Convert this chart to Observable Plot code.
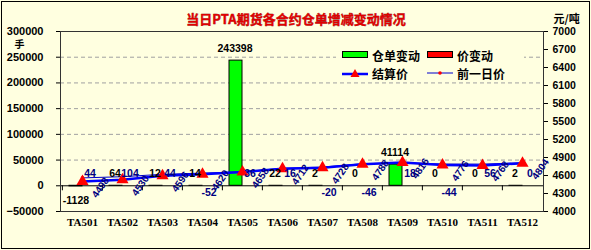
<!DOCTYPE html>
<html><head><meta charset="utf-8">
<script src="https://cdn.jsdelivr.net/npm/d3@7"></script>
<script src="https://cdn.jsdelivr.net/npm/@observablehq/plot@0.6"></script>
<style>
body{margin:0;background:#fff;}
#wrap{position:relative;width:591px;height:250px;background:#ffffe0;overflow:hidden;}
#border{position:absolute;left:1px;top:1px;width:587px;height:246px;border:1px solid #000;pointer-events:none;}
#legend{position:absolute;left:336px;top:44px;width:188px;height:38px;background:#ffffe0;
 font-family:"Noto Sans CJK SC",sans-serif;font-weight:bold;font-size:12px;color:#000;}
.li{position:absolute;display:flex;align-items:center;height:18px;}
.li svg{margin-right:4px;}
</style></head><body>
<div id="wrap"><div id="border"></div></div>
<script>
const categories = ["TA501","TA502","TA503","TA504","TA505","TA506","TA507","TA508","TA509","TA510","TA511","TA512"];
const warehouseChange = [-1128, 64, 12, 14, 243398, 22, 2, 0, 41114, 0, 0, 2];
const priceChange = [44, 104, 44, -52, 36, 16, -20, -46, 18, -44, 56, 0];
const settlePrice = [4498, 4530, 4596, 4620, 4658, 4712, 4728, 4788, 4816, 4776, 4768, 4804];
const prevPrice = [4560, 4580, 4620, 4640, 4662, 4720, 4740, 4796, 4810, 4792, 4790, 4812];
const leftTicks = [-50000, 0, 50000, 100000, 150000, 200000, 250000, 300000];
const rightTicks = [4000, 4300, 4600, 4900, 5200, 5500, 5800, 6100, 6400, 6700, 7000];
const titleText = "当日PTA期货各合约仓单增减变动情况";
const leftUnit = "手";
const rightUnit = "元/吨";

const rows = categories.map((c, i) => ({cat: c, wh: warehouseChange[i], pc: priceChange[i], settle: settlePrice[i], prev: prevPrice[i]}));
const p2y = d3.scaleLinear([4000, 7000], [-50000, 300000]);

const W = 591, H = 250, ML = 60, MR = 48, MT = 31, MB = 39;
const bw = (W - ML - MR) / categories.length;
const lab = {fontWeight: "bold", fontSize: 10.5, fontFamily: "Liberation Sans, Arial, sans-serif"};

const chart = Plot.plot({
  width: W, height: H, marginLeft: ML, marginRight: MR, marginTop: MT, marginBottom: MB,
  style: {background: "transparent", fontFamily: "Liberation Sans, Arial, sans-serif", overflow: "visible", color: "#000"},
  x: {type: "band", domain: categories, padding: 0, axis: null},
  y: {domain: [-50000, 300000], axis: null},
  marks: [
    Plot.ruleY(leftTicks.filter(d => d > 0 && d < 300000), {stroke: "#a0a0a0", strokeDasharray: "4,3"}),
    Plot.barY(rows, {x: "cat", y: "wh", fill: "#00ff00", stroke: "#000", strokeWidth: 1, insetLeft: 7, insetRight: 20}),
    Plot.barY(rows, {x: "cat", y: "pc", fill: "#ff0000", insetLeft: 20, insetRight: 7}),
    Plot.ruleY([0], {stroke: "#000", strokeWidth: 1}),
    Plot.ruleX(categories, {x: d => d, dx: -bw / 2, y1: 0, y2: 0, insetBottom: -5, stroke: "#000"}),
    Plot.frame({stroke: "#333"}),
    Plot.axisY(leftTicks, {anchor: "left", tickSize: 4, tickPadding: 13, fontWeight: "bold", fontSize: 11, tickFormat: d => String(d).replace("-", "−")}),
    Plot.axisY(rightTicks.map(p => p2y(p)), {anchor: "right", tickSize: 4, tickPadding: 5, fontWeight: "bold", fontSize: 10.5, tickFormat: d => String(Math.round(p2y.invert(d)))}),
    Plot.text(categories, {x: d => d, frameAnchor: "bottom", dy: 14, fontWeight: "bold", fontSize: 11, fontFamily: "Liberation Serif, serif"}),
    Plot.line(rows, {x: "cat", y: d => p2y(d.prev), stroke: "#0000cc", strokeWidth: 1}),
    Plot.line(rows, {x: "cat", y: d => p2y(d.settle), stroke: "#0000ff", strokeWidth: 2.5}),
    Plot.dot(rows, {x: "cat", y: d => p2y(d.prev), r: 1.8, fill: "#ff0000"}),
    Plot.dot(rows, {x: "cat", y: d => p2y(d.settle), symbol: "triangle", r: 4.5, fill: "#ff0000"}),
    Plot.text(rows, {x: "cat", y: d => p2y(d.settle), text: d => String(d.settle), rotate: -55, dx: 18, dy: 6, fill: "#000080", fontWeight: "bold", fontSize: 10, fontFamily: "Liberation Sans, Arial, sans-serif"}),
    Plot.text(rows, {filter: d => d.wh >= 0, x: "cat", y: "wh", text: d => String(d.wh), dx: -7.5, dy: -12, fill: "#000", ...lab}),
    Plot.text(rows, {filter: d => d.wh < 0, x: "cat", y: "wh", text: d => String(d.wh), dx: -6.5, dy: 14, fill: "#000", ...lab}),
    Plot.text(rows, {filter: d => d.pc >= 0, x: "cat", y: "pc", text: d => String(d.pc), dx: 7.5, dy: -12, fill: "#000080", ...lab}),
    Plot.text(rows, {filter: d => d.pc < 0, x: "cat", y: "pc", text: d => String(d.pc), dx: 6.5, dy: 7, fill: "#000080", ...lab}),
    Plot.text([titleText], {frameAnchor: "top", dx: -6, dy: -17, fill: "#e00000", fontWeight: "bold", fontSize: 13, fontFamily: "Noto Sans CJK SC, sans-serif", stroke: "#700", strokeWidth: 0.4}),
    Plot.text([leftUnit], {frameAnchor: "top-left", dx: -46, dy: 9, textAnchor: "start", fontWeight: "bold", fontSize: 10, fontFamily: "Noto Sans CJK SC, sans-serif"}),
    Plot.text([rightUnit], {frameAnchor: "top-right", dx: 10, dy: -16, textAnchor: "start", fontWeight: "bold", fontSize: 11, fontFamily: "Noto Sans CJK SC, sans-serif"})
  ]
});
const wrap = document.getElementById("wrap");
chart.style.position = "absolute"; chart.style.left = "0"; chart.style.top = "0";
wrap.insertBefore(chart, wrap.firstChild);

const legend = document.createElement("div");
legend.id = "legend";
const items = [
  {name: "仓单变动", kind: "bar", color: "#00ff00", left: 6, top: 2},
  {name: "价变动", kind: "bar", color: "#ff0000", left: 91, top: 2},
  {name: "结算价", kind: "tri", left: 6, top: 20},
  {name: "前一日价", kind: "dot", left: 91, top: 20}
];
for (const it of items) {
  const d = document.createElement("div");
  d.className = "li"; d.style.left = it.left + "px"; d.style.top = it.top + "px";
  let sw = "";
  if (it.kind === "bar") sw = `<svg width="26" height="8"><rect x="0.5" y="0.5" width="25" height="6" fill="${it.color}" stroke="#000"/></svg>`;
  else if (it.kind === "tri") sw = `<svg width="26" height="10"><line x1="0" y1="6" x2="26" y2="6" stroke="#0000ff" stroke-width="2.5"/><path d="M13,1 L17.5,9 L8.5,9 Z" fill="#ff0000"/></svg>`;
  else sw = `<svg width="26" height="10"><line x1="0" y1="5" x2="26" y2="5" stroke="#0000cc" stroke-width="1"/><circle cx="13" cy="5" r="1.8" fill="#ff0000"/></svg>`;
  d.innerHTML = sw + `<span>${it.name}</span>`;
  legend.appendChild(d);
}
wrap.appendChild(legend);
</script>
</body></html>
